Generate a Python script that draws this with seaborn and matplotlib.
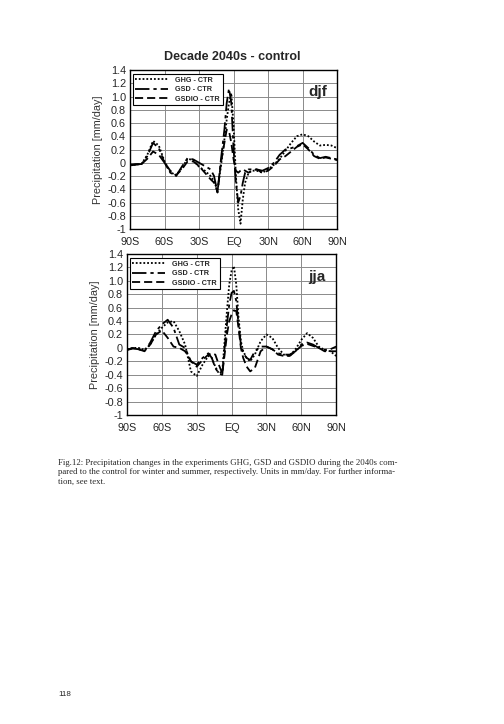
import numpy as np
import pandas as pd
import seaborn as sns
import matplotlib.pyplot as plt
from matplotlib.lines import Line2D

# latitude grid (deg, negative = south)
lat = [-90, -85, -80, -75, -70, -65, -60, -55, -50, -45, -40, -35, -30, -25, -20, -17, -14, -11, -8, -6,
       -4, -2, 0, 2, 4, 6, 8, 10, 13, 16, 20, 25, 30, 35, 40, 45, 50, 55, 60, 65, 70, 75, 80, 85, 90]

# winter (djf) differences, mm/day
djf_ghg = [-0.03, -0.03, -0.02, 0.12, 0.33, 0.26, 0.02, -0.14, -0.19, -0.08, 0.06, 0.04, -0.06, -0.12, -0.2,
           -0.28, -0.42, -0.05, 0.35, 0.65, 0.9, 1.05, 0.55, -0.2, -0.7, -0.92, -0.55, -0.3, -0.15, -0.12,
           -0.12, -0.15, -0.1, -0.03, 0.06, 0.18, 0.3, 0.4, 0.43, 0.4, 0.32, 0.26, 0.27, 0.26, 0.22]
djf_gsd = [-0.03, -0.02, -0.02, 0.1, 0.3, 0.22, 0.0, -0.15, -0.2, -0.06, 0.07, 0.05, 0.0, -0.05, -0.1,
           -0.2, -0.45, 0.05, 0.5, 0.9, 1.12, 0.9, 0.2, -0.3, -0.6, -0.5, -0.3, -0.15, -0.1, -0.1,
           -0.1, -0.12, -0.08, 0.0, 0.12, 0.2, 0.22, 0.25, 0.3, 0.22, 0.12, 0.07, 0.09, 0.07, 0.05]
djf_gsdio = [-0.04, -0.03, -0.02, 0.06, 0.17, 0.12, 0.0, -0.12, -0.19, -0.1, 0.02, 0.02, -0.05, -0.15, -0.25,
             -0.3, -0.44, 0.0, 0.3, 0.5, 0.48, 0.3, 0.05, -0.12, -0.15, -0.12, -0.1, -0.12, -0.15, -0.12,
             -0.1, -0.15, -0.12, -0.05, 0.05, 0.1, 0.17, 0.24, 0.28, 0.2, 0.1, 0.06, 0.08, 0.06, 0.04]

# summer (jja) differences, mm/day
jja_ghg = [-0.02, 0.0, 0.0, -0.03, 0.05, 0.2, 0.3, 0.38, 0.4, 0.25, 0.05, -0.35, -0.42, -0.25, -0.12,
           -0.15, -0.28, -0.38, -0.35, 0.1, 0.55, 0.95, 1.15, 1.22, 0.95, 0.45, 0.1, -0.05, -0.15, -0.2,
           -0.1, 0.1, 0.2, 0.15, 0.0, -0.1, -0.12, -0.02, 0.12, 0.22, 0.15, 0.02, -0.03, -0.05, -0.12]
jja_gsd = [-0.03, -0.01, -0.02, -0.05, 0.08, 0.25, 0.35, 0.42, 0.3, 0.05, 0.0, -0.2, -0.25, -0.15, -0.08,
           -0.15, -0.3, -0.38, -0.4, 0.0, 0.35, 0.65, 0.82, 0.85, 0.7, 0.35, 0.05, -0.08, -0.15, -0.18,
           -0.05, 0.02, 0.02, -0.02, -0.08, -0.1, -0.1, -0.05, 0.05, 0.08, 0.05, 0.0, -0.03, -0.02, 0.02]
jja_gsdio = [-0.03, 0.0, -0.02, -0.05, 0.05, 0.2, 0.26, 0.15, 0.02, 0.0, -0.05, -0.2, -0.28, -0.18, -0.1,
             -0.08, -0.1, -0.25, -0.38, -0.1, 0.2, 0.4, 0.5, 0.56, 0.55, 0.3, 0.0, -0.15, -0.28, -0.35,
             -0.3, -0.05, 0.02, -0.02, -0.1, -0.12, -0.12, -0.05, 0.03, 0.06, 0.03, 0.0, -0.05, -0.05, -0.05]

experiments = ['GHG - CTR', 'GSD - CTR', 'GSDIO - CTR']
xtick_vals = [-90, -60, -30, 0, 30, 60, 90]
xtick_labels = ['90S', '60S', '30S', 'EQ', '30N', '60N', '90N']
ytick_vals = [-1, -0.8, -0.6, -0.4, -0.2, 0, 0.2, 0.4, 0.6, 0.8, 1.0, 1.2, 1.4]
ytick_labels = ['-1', '-0.8', '-0.6', '-0.4', '-0.2', '0', '0.2', '0.4', '0.6', '0.8', '1.0', '1.2', '1.4']

sns.set_style("white")
plt.rcParams['font.family'] = ['Liberation Sans', 'DejaVu Sans']

dash_styles = {'GHG - CTR': (1, 1.1), 'GSD - CTR': (8, 2.2, 1.8, 2.2), 'GSDIO - CTR': (4.5, 2.2)}


def make_df(a, b, c):
    rows = []
    for name, vals in zip(experiments, [a, b, c]):
        rows.append(pd.DataFrame({'lat': lat, 'precip': vals, 'exp': name}))
    return pd.concat(rows, ignore_index=True)


fig = plt.figure(figsize=(5.04, 7.24), dpi=100)
ax1 = fig.add_axes([0.258, 0.6837, 0.411, 0.2196])
ax2 = fig.add_axes([0.252, 0.4268, 0.415, 0.2224])

panels = [(ax1, make_df(djf_ghg, djf_gsd, djf_gsdio), 'djf'),
          (ax2, make_df(jja_ghg, jja_gsd, jja_gsdio), 'jja')]

for ax, df, season in panels:
    sns.lineplot(data=df, x='lat', y='precip', style='exp', dashes=dash_styles, color='black',
                 linewidth=1.3, ax=ax, legend=False)
    ax.set_xlim(-90, 90)
    ax.set_ylim(-1, 1.4)
    ax.set_xticks(xtick_vals)
    ax.set_xticklabels(xtick_labels)
    ax.set_yticks(ytick_vals)
    ax.set_yticklabels(ytick_labels)
    ax.tick_params(axis='y', length=0, labelsize=7.8, pad=3)
    ax.tick_params(axis='x', length=0, labelsize=7.8, pad=6)
    ax.grid(True, color='#8a8a8a', linewidth=0.7)
    ax.set_axisbelow(True)
    for s in ax.spines.values():
        s.set_color('black')
        s.set_linewidth(1.0)
    ax.set_xlabel('')
    ax.set_ylabel('Precipitation [mm/day]', fontsize=7.8, labelpad=3, color='#333333')
    ax.text(0.95, 0.86, season, transform=ax.transAxes, fontsize=11, fontweight='bold',
            ha='right', va='center')
    handles = [Line2D([0], [0], color='black', linewidth=1.3, dashes=dash_styles[e]) for e in experiments]
    leg = ax.legend(handles, experiments, loc='upper left', bbox_to_anchor=(0.012, 0.975),
                    borderaxespad=0, handlelength=4.6, handletextpad=1.0,
                    labelspacing=0.35, borderpad=0.35, fancybox=False, framealpha=1,
                    edgecolor='black', prop={'weight': 'bold', 'size': 5.2})
    leg.get_frame().set_linewidth(0.8)

fig.text(0.46, 0.921, 'Decade 2040s - control', ha='center', va='center', fontsize=9, fontweight='bold')

caption = ("Fig.12: Precipitation changes in the experiments GHG, GSD and GSDIO during the 2040s com-\n"
           "pared to the control for winter and summer, respectively. Units in mm/day. For further informa-\n"
           "tion, see text.")
fig.text(58 / 504, 1 - 459 / 724, caption, ha='left', va='top', fontsize=6.3,
         family=['Liberation Serif', 'DejaVu Serif'], linespacing=1.25)
fig.text(58 / 504, 1 - 694 / 724, '118', ha='left', va='center', fontsize=5.8)

fig.savefig('out.png', dpi=100)
